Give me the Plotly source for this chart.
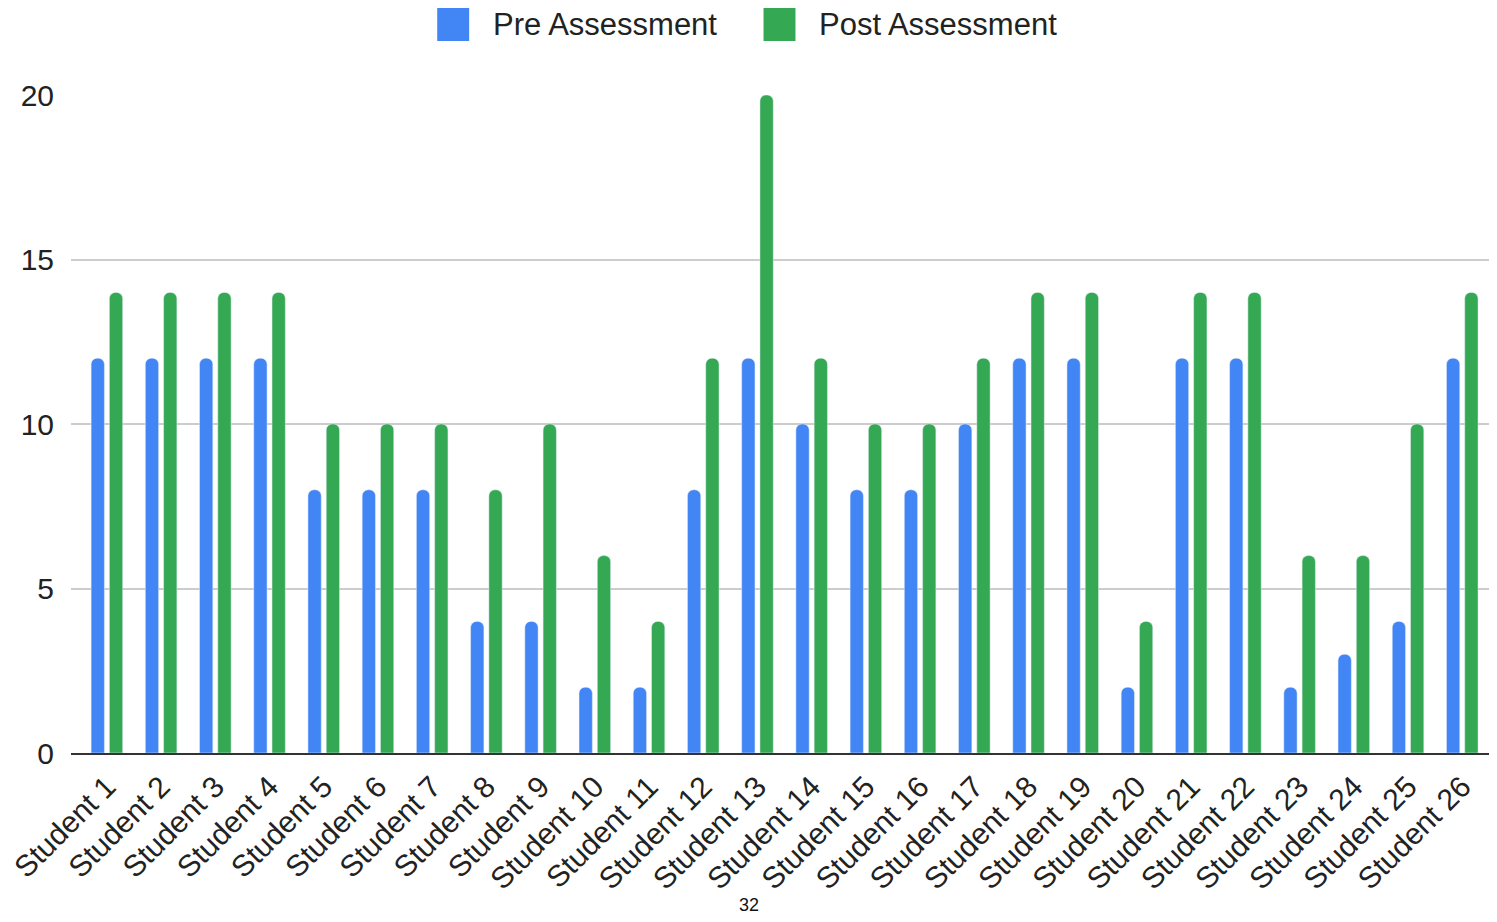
import plotly.graph_objects as go

students = [f"Student {i}" for i in range(1, 27)]
pre_scores = [12, 12, 12, 12, 8, 8, 8, 4, 4, 2, 2, 8, 12, 10, 8, 8, 10, 12, 12, 2, 12, 12, 2, 3, 4, 12]
post_scores = [14, 14, 14, 14, 10, 10, 10, 8, 10, 6, 4, 12, 20, 12, 10, 10, 12, 14, 14, 4, 14, 14, 6, 6, 10, 14]
series_names = ["Pre Assessment", "Post Assessment"]
colors = ["#4285F4", "#34A853"]
y_ticks = [0, 5, 10, 15, 20]

FONT = "Liberation Sans, Arial, sans-serif"

fig = go.Figure()
fig.add_trace(go.Bar(x=students, y=pre_scores, name=series_names[0],
                     marker=dict(color=colors[0], cornerradius=6),
                     width=0.245, offset=-0.292, showlegend=False))
fig.add_trace(go.Bar(x=students, y=post_scores, name=series_names[1],
                     marker=dict(color=colors[1], cornerradius=6),
                     width=0.245, offset=0.045, showlegend=False))

# page-pixel helpers (plot area spans x 68..1497, y 95..753 on the page)
PX0, PX1, PY0, PY1 = 68, 1497, 95, 753
def px(x):
    return (x - PX0) / (PX1 - PX0)
def py(y):
    return (PY1 - y) / (PY1 - PY0)

# manual legend (large swatches like the reference)
legend_items = [(435, 489, 0), (762, 816, 1)]
for sx, tx, k in legend_items:
    fig.add_shape(type="rect", xref="paper", yref="paper",
                  x0=px(sx), x1=px(sx + 32), y0=py(41), y1=py(8),
                  fillcolor=colors[k], line=dict(width=0), layer="above")
    fig.add_annotation(xref="paper", yref="paper", x=px(tx), y=py(25),
                       text=series_names[k], showarrow=False, xanchor="left", yanchor="middle",
                       font=dict(size=31, color="#222222", family=FONT))

fig.add_annotation(xref="paper", yref="paper", x=px(747), y=py(905), text="32",
                   showarrow=False, xanchor="center", yanchor="middle",
                   font=dict(size=18, color="#111111", family=FONT))

# the page body adds an 8px offset, so the figure is 8px smaller with 8px less margin
fig.update_layout(
    width=1489, height=914,
    margin=dict(l=60, r=0, t=87, b=169),
    plot_bgcolor="white", paper_bgcolor="white",
    font=dict(family=FONT, color="#222222"),
)
fig.update_xaxes(range=[-0.663, 25.64], tickangle=-45, tickfont=dict(size=30, color="#222222"),
                 showline=True, linecolor="#333333", linewidth=2, ticks="", showgrid=False,
                 ticklabelstandoff=2)
fig.update_yaxes(range=[0, 20], tickvals=y_ticks, tickfont=dict(size=30, color="#222222"),
                 showgrid=True, gridcolor="#cccccc", gridwidth=2, zeroline=False,
                 showline=False, ticklabelstandoff=16)

fig.write_html("out.html")
